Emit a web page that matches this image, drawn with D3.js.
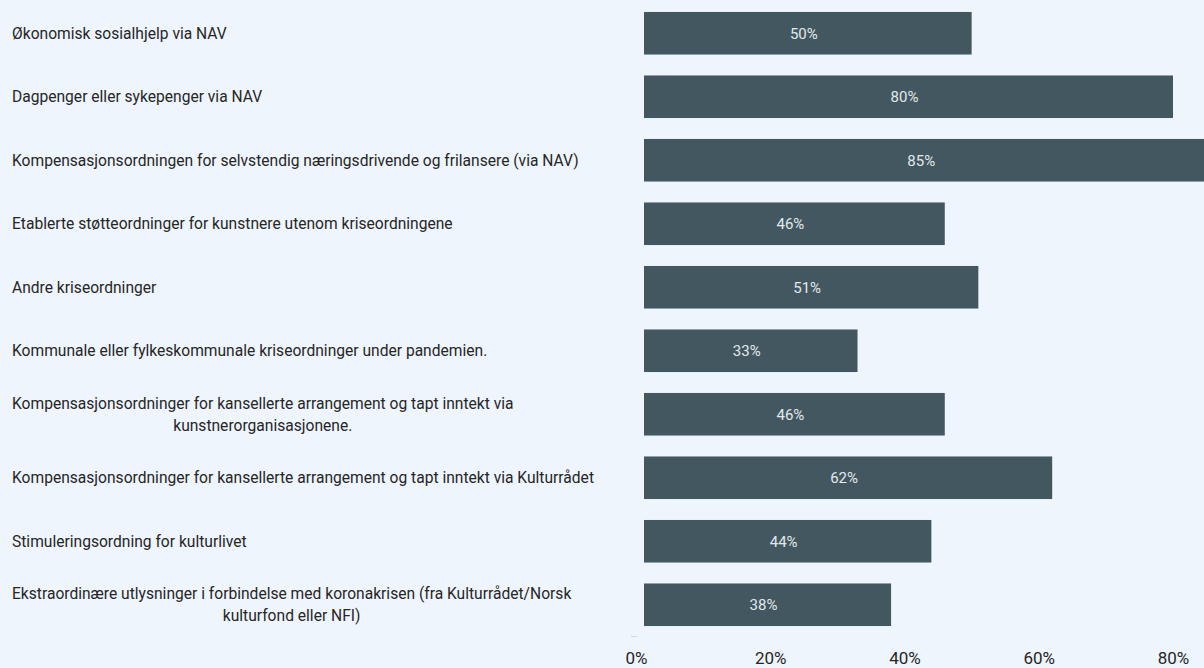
<!DOCTYPE html>
<html>
<head>
<meta charset="utf-8">
<script src="https://cdn.jsdelivr.net/npm/d3@7"></script>
<style>
  html, body { margin: 0; padding: 0; background: #eef5fc; }
  svg { display: block; font-family: Roboto, "Liberation Sans", Arial, sans-serif; }
</style>
</head>
<body>
<script>
var width = 1204,
    height = 668;

// categories (explicit line breaks as in the original)
var categories = [
  ["Økonomisk sosialhjelp via NAV"],
  ["Dagpenger eller sykepenger via NAV"],
  ["Kompensasjonsordningen for selvstendig næringsdrivende og frilansere (via NAV)"],
  ["Etablerte støtteordninger for kunstnere utenom kriseordningene"],
  ["Andre kriseordninger"],
  ["Kommunale eller fylkeskommunale kriseordninger under pandemien."],
  ["Kompensasjonsordninger for kansellerte arrangement og tapt inntekt via", "kunstnerorganisasjonene."],
  ["Kompensasjonsordninger for kansellerte arrangement og tapt inntekt via Kulturrådet"],
  ["Stimuleringsordning for kulturlivet"],
  ["Ekstraordinære utlysninger i forbindelse med koronakrisen (fra Kulturrådet/Norsk", "kulturfond eller NFI)"]
];
var values = [50, 80, 85, 46, 51, 33, 46, 62, 44, 38];
var ticks = [0, 20, 40, 60, 80];

var svg = d3.select("body").append("svg")
            .attr("width", width)
            .attr("height", height);

var x = d3.scaleLinear()
          .domain([0, 80])
          .range([636, 1173]);

var y = d3.scaleBand()
          .domain(d3.range(categories.length))
          .range([1.5, 636.5])
          .paddingInner(0.33)
          .paddingOuter(0.165);

// bars
svg.append("g")
   .selectAll("rect")
   .data(values)
   .enter()
   .append("rect")
   .attr("x", x(0) + 8)
   .attr("y", function(d, i){ return y(i); })
   .attr("width", function(d){ return x(d) - x(0) - 8; })
   .attr("height", y.bandwidth())
   .attr("fill", "#42575f");

// value labels
svg.append("g")
   .selectAll("text")
   .data(values)
   .enter()
   .append("text")
   .attr("x", function(d){ return (x(0) + x(d)) / 2; })
   .attr("y", function(d, i){ return y(i) + y.bandwidth() / 2; })
   .attr("dy", "0.35em")
   .attr("text-anchor", "middle")
   .attr("fill", "#e2e9ed")
   .style("font-size", "15px")
   .text(function(d){ return d + "%"; });

// category labels, multi-line ones centred on their widest line
var labels = svg.append("g")
   .selectAll("text")
   .data(categories)
   .enter()
   .append("text")
   .attr("fill", "#262626")
   .style("font-size", "15.6px");

labels.each(function(lines, i){
  var t = d3.select(this);
  var cy = y(i) + y.bandwidth() / 2;
  var lh = 22;
  lines.forEach(function(line, j){
    t.append("tspan")
     .attr("y", cy + (j - (lines.length - 1) / 2) * lh)
     .attr("dy", "0.35em")
     .text(line);
  });
  var w = 0;
  t.selectAll("tspan").each(function(){ w = Math.max(w, this.getComputedTextLength()); });
  t.attr("text-anchor", lines.length > 1 ? "middle" : "start");
  t.selectAll("tspan").attr("x", lines.length > 1 ? 12 + w / 2 : 12);
});

// x axis
var axis = svg.append("g")
   .attr("transform", "translate(0,636.5)")
   .call(d3.axisBottom(x)
           .tickValues(ticks)
           .tickSize(0)
           .tickPadding(15)
           .tickFormat(function(d){ return d + "%"; }));

axis.select(".domain").remove();
axis.selectAll("text")
    .attr("fill", "#262626")
    .style("font-family", "Roboto, Arial, sans-serif")
    .style("font-size", "17px");

// small tick at the bottom of the category axis
svg.append("line")
   .attr("x1", x(0) - 5)
   .attr("x2", x(0) + 1)
   .attr("y1", 636.5)
   .attr("y2", 636.5)
   .attr("stroke", "#cfd6dc");
</script>
</body>
</html>
